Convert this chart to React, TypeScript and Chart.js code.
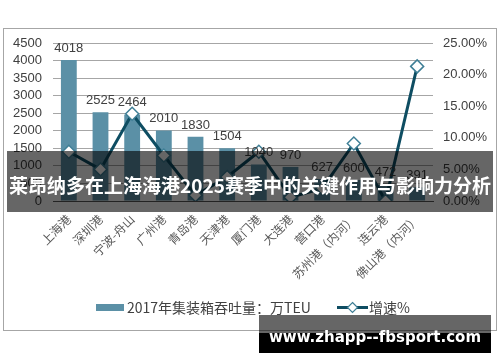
import React, { useEffect, useRef } from "react";
import { Chart, registerables } from "chart.js";

Chart.register(...registerables);

const categories = [
  "上海港", "深圳港", "宁波-舟山", "广州港", "青岛港", "天津港",
  "厦门港", "大连港", "营口港", "苏州港（内河）", "连云港", "佛山港（内河）",
];
const throughput = [4018, 2525, 2464, 2010, 1830, 1504, 1040, 970, 627, 600, 472, 391];
const growth = [7.8, 5.0, 13.8, 7.2, 0.9, 3.8, 7.8, 0.6, 2.0, 9.1, 0.0, 21.3];
const leftTicks = { min: 0, max: 4500, step: 500 };
const rightTicks = { min: 0, max: 25, step: 5 };
const seriesNames = ["2017年集装箱吞吐量：万TEU", "增速%"];
const bannerText = "莱昂纳多在上海海港2025赛季中的关键作用与影响力分析";
const watermarkText = "www.zhapp--fbsport.com";

const BAR_COLOR = "#5B90A6";
const LINE_COLOR = "#0E4D62";
const POINT_BORDER = "#3F7F96";
const TEXT = "#404040";
const FONT = '"Liberation Sans", "Noto Sans CJK SC", sans-serif';
const CJK = '"Noto Sans CJK SC", "Liberation Sans", sans-serif';

const labelsPlugin = {
  id: "barLabels",
  afterDatasetsDraw(chart: any) {
    const ctx = chart.ctx;
    const meta = chart.getDatasetMeta(0);
    ctx.save();
    ctx.font = `13px ${FONT}`;
    ctx.fillStyle = TEXT;
    ctx.textAlign = "center";
    ctx.textBaseline = "alphabetic";
    meta.data.forEach((el: any, i: number) => {
      ctx.fillText(String(throughput[i]), el.x, el.y - 8);
    });
    ctx.restore();
  },
  afterDraw(chart: any) {
    const ctx = chart.ctx;
    ctx.save();
    const y = 307.5;
    ctx.fillStyle = BAR_COLOR;
    ctx.fillRect(96, y - 3.5, 28, 7);
    ctx.font = `14px ${CJK}`;
    ctx.fillStyle = TEXT;
    ctx.textBaseline = "middle";
    ctx.textAlign = "left";
    ctx.fillText(seriesNames[0], 127, y);
    ctx.strokeStyle = LINE_COLOR;
    ctx.lineWidth = 3;
    ctx.beginPath();
    ctx.moveTo(337, y);
    ctx.lineTo(368, y);
    ctx.stroke();
    ctx.beginPath();
    const cx = 352.5, r = 5;
    ctx.moveTo(cx, y - r);
    ctx.lineTo(cx + r, y);
    ctx.lineTo(cx, y + r);
    ctx.lineTo(cx - r, y);
    ctx.closePath();
    ctx.fillStyle = "#fff";
    ctx.fill();
    ctx.lineWidth = 1.2;
    ctx.strokeStyle = POINT_BORDER;
    ctx.stroke();
    ctx.fillStyle = TEXT;
    ctx.fillText(seriesNames[1], 369, y);
    ctx.restore();
  },
};

export default function App() {
  const ref = useRef<HTMLCanvasElement | null>(null);
  useEffect(() => {
    if (!ref.current) return;
    const chart = new Chart(ref.current, {
      type: "bar",
      data: {
        labels: categories,
        datasets: [
          {
            type: "bar",
            label: seriesNames[0],
            data: throughput,
            backgroundColor: BAR_COLOR,
            yAxisID: "y",
            barPercentage: 1,
            categoryPercentage: 0.5,
            order: 2,
          },
          {
            type: "line",
            label: seriesNames[1],
            data: growth,
            yAxisID: "y1",
            borderColor: LINE_COLOR,
            borderWidth: 3,
            pointStyle: "rectRot",
            pointRadius: 6.5,
            pointBackgroundColor: "#fff",
            pointBorderColor: POINT_BORDER,
            pointBorderWidth: 1.5,
            tension: 0,
            order: 1,
          } as any,
        ],
      },
      options: {
        animation: false,
        responsive: false,
        maintainAspectRatio: false,
        layout: { padding: { top: 43, left: 0, right: 0, bottom: 0 } },
        plugins: { legend: { display: false }, tooltip: { enabled: false } },
        scales: {
          x: {
            offset: true,
            grid: { display: false },
            border: { display: true, color: "#595959" },
            ticks: {
              autoSkip: false,
              minRotation: 45,
              maxRotation: 45,
              padding: 3,
              color: "#595959",
              font: { size: 12, family: CJK },
            },
            afterFit(scale: any) {
              scale.height = 161;
            },
          },
          y: {
            position: "left",
            min: leftTicks.min,
            max: leftTicks.max,
            ticks: {
              stepSize: leftTicks.step,
              autoSkip: false,
              maxTicksLimit: 20,
              padding: 11,
              color: TEXT,
              font: { size: 13, family: FONT },
              callback: (v: any) => String(v),
            },
            grid: {
              drawTicks: false,
              color: (c: any) => (c.tick && c.tick.value === 0 ? "#595959" : "#A6A6A6"),
            },
            border: { display: false },
            afterFit(scale: any) {
              scale.width = 53;
            },
          },
          y1: {
            position: "right",
            min: rightTicks.min,
            max: rightTicks.max,
            ticks: {
              stepSize: rightTicks.step,
              autoSkip: false,
              maxTicksLimit: 20,
              padding: 10,
              color: TEXT,
              font: { size: 13, family: FONT },
              callback: (v: any) => `${Number(v).toFixed(2)}%`,
            },
            grid: { display: false, drawTicks: false },
            border: { display: false },
            afterFit(scale: any) {
              scale.width = 67;
            },
          },
        },
      },
      plugins: [labelsPlugin],
    });
    return () => chart.destroy();
  }, []);

  return (
    <div style={{ position: "fixed", left: 0, top: 0, width: 500, height: 362, background: "#fff", overflow: "hidden" }}>
      <div
        style={{
          position: "absolute", left: 3, top: 28, width: 494, height: 303,
          boxSizing: "border-box", border: "1px solid #A6A6A6",
        }}
      />
      <canvas ref={ref} width={500} height={362} style={{ position: "absolute", left: 0, top: 0, width: 500, height: 362 }} />
      <div
        style={{
          position: "absolute", left: 7, top: 151, width: 486, height: 61,
          background: "rgba(0,0,0,0.6)", display: "flex", alignItems: "center", justifyContent: "center",
        }}
      >
        <span
          style={{
            color: "#fff", fontFamily: CJK, fontWeight: 700, fontSize: 19,
            whiteSpace: "nowrap", position: "relative", top: 3,
          }}
        >
          {bannerText}
        </span>
      </div>
      <div style={{ position: "absolute", left: 259, top: 333, width: 232, height: 20, background: "#000" }} />
      <div
        style={{
          position: "absolute", left: 259, top: 315, width: 232, height: 38,
          background: "rgba(0,0,0,0.6)", display: "flex", alignItems: "center", justifyContent: "center",
        }}
      >
        <span
          style={{
            color: "#fff", fontFamily: '"DejaVu Sans", sans-serif', fontWeight: 700, fontSize: 15,
            whiteSpace: "nowrap", position: "relative", top: 3,
          }}
        >
          {watermarkText}
        </span>
      </div>
    </div>
  );
}
